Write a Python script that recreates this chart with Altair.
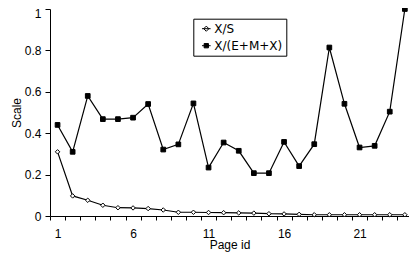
import altair as alt
import pandas as pd

pages = list(range(1, 25))
series_names = ["X/S", "X/(E+M+X)"]
x_over_s = [0.31, 0.097, 0.076, 0.052, 0.04, 0.039, 0.036, 0.029, 0.018, 0.018,
            0.017, 0.016, 0.015, 0.014, 0.011, 0.01, 0.008, 0.006, 0.006, 0.006,
            0.006, 0.006, 0.006, 0.006]
x_over_emx = [0.44, 0.31, 0.58, 0.468, 0.468, 0.475, 0.541, 0.321, 0.346, 0.544,
              0.234, 0.355, 0.315, 0.207, 0.207, 0.358, 0.241, 0.347, 0.814, 0.542,
              0.331, 0.339, 0.504, 1.0]
x_label_values = [1, 6, 11, 16, 21]
y_tick_values = [0, 0.2, 0.4, 0.6, 0.8, 1]

rows = []
for name, vals in zip(series_names, [x_over_s, x_over_emx]):
    for p, v in zip(pages, vals):
        rows.append({"page": p, "series": name, "value": v})
df = pd.DataFrame(rows)

W = 359
BAND = 15.1
X_MAX = 0.5 + W / BAND
H = 207
half_band = BAND / 2

label_test = " || ".join(f"datum.value == {v}" for v in x_label_values)

x_enc = alt.X(
    "page:Q",
    scale=alt.Scale(domain=[0.5, X_MAX], nice=False, zero=False),
    axis=alt.Axis(
        values=pages,
        tickOffset=-half_band,
        labelOffset=half_band,
        labelExpr=f"({label_test}) ? datum.label : ''",
        labelFlush=False,
        labelOverlap=False,
        tickSize=4,
        labelPadding=8,
        title="Page id",
        titlePadding=0,
        grid=False,
    ),
)
y_enc = alt.Y(
    "value:Q",
    scale=alt.Scale(domain=[0, 1], nice=False),
    axis=alt.Axis(
        values=y_tick_values,
        format="~g",
        tickSize=5,
        labelPadding=4,
        labelOffset={"condition": {"test": "datum.value == 1", "value": 4}, "value": 0},
        title="Scale",
        titlePadding=1,
        grid=False,
    ),
)

legend_paths = ["M-1,0H1M0,-0.6L0.6,0L0,0.6L-0.6,0Z",
                "M-1,0H1M-0.5,-0.5H0.5V0.5H-0.5Z"]
legend_spec = alt.Legend(
    title=None,
    orient="none",
    legendX=143.3,
    legendY=9.7,
    padding=4,
    symbolOffset=3,
    rowPadding=5,
    labelFont="DejaVu Sans",
    labelFontSize=12,
    labelColor="black",
    labelOffset=2,
    strokeColor="black",
    fillColor="white",
    symbolSize=74,
    symbolStrokeWidth=1,
    symbolStrokeColor="black",
    symbolOpacity=1,
)

lines = alt.Chart(df).mark_line(color="black", strokeWidth=1.2).encode(
    x=x_enc, y=y_enc, detail="series:N"
)

pts_s = alt.Chart(df).transform_filter(
    alt.datum.series == series_names[0]
).mark_point(
    shape="diamond", filled=True, fill="white", stroke="black",
    strokeWidth=1, size=20, opacity=1
).encode(x=x_enc, y=y_enc)

pts_e = alt.Chart(df).transform_filter(
    alt.datum.series == series_names[1]
).mark_point(
    shape="square", filled=True, fill="black", stroke="black",
    strokeWidth=1, size=22, opacity=1
).encode(x=x_enc, y=y_enc)

legend_layer = alt.Chart(df).mark_point(
    filled=True, size=0, strokeWidth=1, opacity=1
).encode(
    x=x_enc,
    y=y_enc,
    shape=alt.Shape(
        "series:N",
        scale=alt.Scale(domain=series_names, range=legend_paths),
        legend=legend_spec,
    ),
    fill=alt.Fill(
        "series:N",
        scale=alt.Scale(domain=series_names, range=["white", "black"]),
        legend=legend_spec,
    ),
    stroke=alt.Stroke(
        "series:N",
        scale=alt.Scale(domain=series_names, range=["black", "black"]),
        legend=legend_spec,
    ),
)

chart = alt.layer(lines, pts_s, pts_e, legend_layer).properties(
    width=W,
    height=H,
    autosize=alt.AutoSizeParams(type="none"),
    padding={"left": 42, "top": 1, "right": 0, "bottom": 36},
).configure_view(strokeWidth=0).configure_axis(
    domainColor="black",
    tickColor="black",
    labelColor="black",
    titleColor="black",
    labelFont="Liberation Sans",
    titleFont="Liberation Sans",
    labelFontSize=12,
    titleFontSize=12,
    titleFontWeight="normal",
    domainWidth=1,
    tickWidth=1,
)

chart.save("out.html", embed_options={"renderer": "svg", "actions": False})
